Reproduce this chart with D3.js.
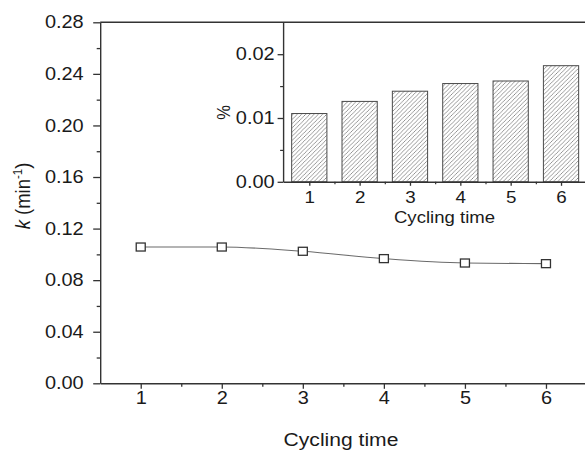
<!DOCTYPE html>
<html><head><meta charset="utf-8">
<script src="https://cdn.jsdelivr.net/npm/d3@7"></script>
<style>
html,body{margin:0;padding:0;background:#fff;}
svg{display:block;font-family:"Liberation Sans",Arial,sans-serif;}
</style></head>
<body><svg id="c" width="585" height="451"></svg>
<script>
// ---- data ----
const cycles = [1, 2, 3, 4, 5, 6];
const kValues = [0.1057, 0.1057, 0.1024, 0.0967, 0.0933, 0.0928];
const percentValues = [0.0107, 0.0126, 0.0142, 0.0154, 0.0158, 0.0182];
const mainYTicks = [0, 0.04, 0.08, 0.12, 0.16, 0.20, 0.24, 0.28];
const mainYMinor = [0.02, 0.06, 0.10, 0.14, 0.18, 0.22, 0.26];
const mainXMinor = [1.5, 2.5, 3.5, 4.5, 5.5];
const insetYTicks = [0, 0.01, 0.02];
const insetYMinor = [0.005, 0.015];
const xTitle = "Cycling time";
const insetYTitle = "%";

const SX = 1.14;          // horizontal stretch of the original raster text
const AX = "#333";
const TXT = "#1a1a1a";
const svg = d3.select("#c");

// ---- pattern ----
const defs = svg.append("defs");
const pat = defs.append("pattern").attr("id","hatch").attr("patternUnits","userSpaceOnUse")
  .attr("width",4.2).attr("height",4.2);
pat.append("rect").attr("width",4.2).attr("height",4.2).attr("fill","#fff");
pat.append("path").attr("d","M0,4.2 L4.2,0 M-1,1 L1,-1 M3.2,5.2 L5.2,3.2")
  .attr("stroke","#808080").attr("stroke-width",0.8);

// ---- main scales ----
const x = d3.scaleLinear().domain([0.5, 6.5]).range([100.2, 586.5]);
const y = d3.scaleLinear().domain([0, 0.28]).range([383.3, 22.3]);

function styleAxis(g){
  g.select(".domain").attr("stroke",AX).attr("stroke-width",1.4);
  g.selectAll(".tick line").attr("stroke",AX).attr("stroke-width",1.3);
}

// main y axis
const gy = svg.append("g").attr("transform",`translate(${x.range()[0]},0)`)
  .call(d3.axisLeft(y).tickValues(mainYTicks).tickFormat(d3.format(".2f")).tickSize(7).tickSizeOuter(0));
styleAxis(gy);
gy.selectAll(".tick text").attr("fill",TXT).attr("font-size",17.5).attr("font-family",null)
  .attr("x",-16.5/SX).attr("transform",`scale(${SX},1)`);
svg.append("g").attr("transform",`translate(${x.range()[0]},0)`)
  .call(d3.axisLeft(y).tickValues(mainYMinor).tickFormat("").tickSize(3.5).tickSizeOuter(0))
  .call(g=>{g.select(".domain").remove(); g.selectAll("line").attr("stroke",AX).attr("stroke-width",1.3);});

// main x axis
const gx = svg.append("g").attr("transform",`translate(0,${y(0)})`)
  .call(d3.axisBottom(x).tickValues(cycles).tickFormat(d3.format("d")).tickSize(5.5).tickSizeOuter(0));
styleAxis(gx);
gx.selectAll(".tick text").attr("fill",TXT).attr("font-size",17.5).attr("font-family",null)
  .attr("y",8.6).attr("transform",`scale(${SX},1)`);
svg.append("g").attr("transform",`translate(0,${y(0)})`)
  .call(d3.axisBottom(x).tickValues(mainXMinor).tickFormat("").tickSize(3.5).tickSizeOuter(0))
  .call(g=>{g.select(".domain").remove(); g.selectAll("line").attr("stroke",AX).attr("stroke-width",1.3);});

// top frame line
svg.append("line").attr("x1",x.range()[0]).attr("x2",x.range()[1]).attr("y1",y(0.28)).attr("y2",y(0.28))
  .attr("stroke",AX).attr("stroke-width",1.4);

// axis titles
svg.append("text").attr("transform",`translate(341,446) scale(${SX},1)`).attr("text-anchor","middle")
  .attr("font-size",18.5).attr("fill",TXT).text(xTitle);
const yl = svg.append("text").attr("transform",`translate(29.5,196) scale(${SX},1) rotate(-90)`)
  .attr("text-anchor","middle").attr("font-size",18.5).attr("fill",TXT);
yl.append("tspan").attr("font-style","italic").text("k");
yl.append("tspan").text(" (min");
yl.append("tspan").attr("font-size",11.5).attr("dy",-7).text("-1");
yl.append("tspan").attr("dy",7).text(")");

// main line + markers
const pts = cycles.map((c,i)=>[c,kValues[i]]);
svg.append("path").datum(pts)
  .attr("d",d3.line().x(d=>x(d[0])).y(d=>y(d[1])).curve(d3.curveMonotoneX))
  .attr("fill","none").attr("stroke","#6a6a6a").attr("stroke-width",1.1);
svg.selectAll("rect.mk").data(pts).join("rect").attr("class","mk")
  .attr("x",d=>x(d[0])-4.5).attr("y",d=>y(d[1])-4).attr("width",9).attr("height",8)
  .attr("fill","#fff").attr("stroke","#333").attr("stroke-width",1.3);

// ---- inset ----
const xi = d3.scaleLinear().domain([0.48, 6.5]).range([283.1, 586.2]);
const yi = d3.scaleLinear().domain([0, 0.025]).range([181.8, 22.3]);
const bw = xi(1.7) - xi(1);

svg.selectAll("rect.bar").data(cycles.map((c,i)=>[c,percentValues[i]])).join("rect").attr("class","bar")
  .attr("x",d=>xi(d[0])-bw/2).attr("y",d=>yi(d[1])).attr("width",bw).attr("height",d=>yi(0)-yi(d[1]))
  .attr("fill","url(#hatch)").attr("stroke","#4a4a4a").attr("stroke-width",1);

const giy = svg.append("g").attr("transform",`translate(${xi.range()[0]},0)`)
  .call(d3.axisLeft(yi).tickValues(insetYTicks).tickFormat(d3.format(".2f")).tickSize(5.5).tickSizeOuter(0));
styleAxis(giy);
giy.selectAll(".tick text").attr("fill",TXT).attr("font-size",17.5).attr("font-family",null)
  .attr("x",-8.5/SX).attr("transform",`scale(${SX},1)`);
svg.append("g").attr("transform",`translate(${xi.range()[0]},0)`)
  .call(d3.axisLeft(yi).tickValues(insetYMinor).tickFormat("").tickSize(3).tickSizeOuter(0))
  .call(g=>{g.select(".domain").remove(); g.selectAll("line").attr("stroke",AX).attr("stroke-width",1.2);});

const gix = svg.append("g").attr("transform",`translate(0,${yi(0)})`)
  .call(d3.axisBottom(xi).tickValues(cycles).tickFormat(d3.format("d")).tickSize(4).tickSizeOuter(0));
styleAxis(gix);
gix.selectAll(".tick text").attr("fill",TXT).attr("font-size",16.5).attr("font-family",null)
  .attr("y",9.2).attr("transform",`scale(${SX},1)`);
svg.append("g").attr("transform",`translate(0,${yi(0)})`)
  .call(d3.axisBottom(xi).tickValues(mainXMinor).tickFormat("").tickSize(2.5).tickSizeOuter(0))
  .call(g=>{g.select(".domain").remove(); g.selectAll("line").attr("stroke",AX).attr("stroke-width",1.2);});

svg.append("text").attr("transform",`translate(444.5,222.5) scale(${SX},1)`).attr("text-anchor","middle")
  .attr("font-size",16.3).attr("fill",TXT).text(xTitle);
svg.append("text").attr("transform",`translate(229.5,112.5) scale(${SX},1) rotate(-90)`).attr("text-anchor","middle")
  .attr("font-size",16.5).attr("fill",TXT).text(insetYTitle);
</script></body></html>
